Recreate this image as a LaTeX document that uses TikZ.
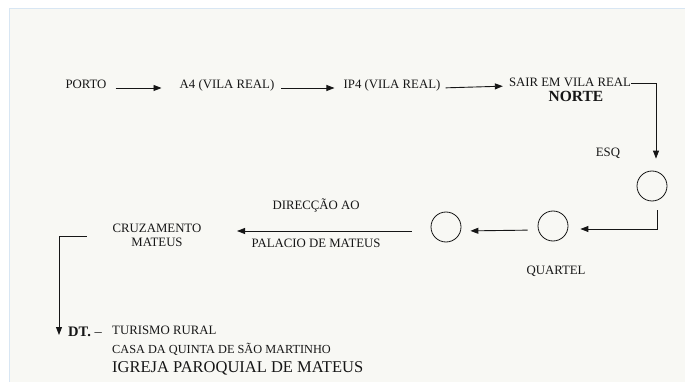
\documentclass[tikz,border=0pt]{standalone}
\usepackage{fontspec}
\setmainfont{Liberation Serif}
\usepackage{xcolor}
\usepackage{tikz}
\usetikzlibrary{arrows.meta}

\definecolor{paper}{RGB}{248,248,244}
\definecolor{edge}{RGB}{216,230,243}
\definecolor{ink}{RGB}{22,22,22}

\tikzset{
  road/.style={draw=ink, line width=0.9pt, -{Triangle[length=8pt,width=6pt]}},
  place/.style={inner sep=0pt, text=ink, font=\fontsize{12.8}{14}\selectfont},
  rot/.style={circle, draw=ink, line width=0.8pt, minimum size=30pt, inner sep=0pt},
}

\begin{document}
\begin{tikzpicture}[x=1pt,y=-1pt]
    \useasboundingbox (0,0) rectangle (685,382);
    \fill[paper] (9,9) rectangle (685,382);
    \draw[edge, line width=1pt] (9,382) -- (9,9) -- (685,9);

    \node[place, anchor=base] (porto) at (86,89) {PORTO};
    \node[place, anchor=base] (a4) at (227,89) {A4 (VILA REAL)};
    \node[place, anchor=base] (ip4) at (392,89) {IP4 (VILA REAL)};
    \node[place, anchor=base] (sair) at (570,87) {SAIR EM VILA REAL};
    \node[place, anchor=base, font=\fontsize{15.5}{17}\selectfont\bfseries] (norte) at (576,102) {NORTE};
    \node[place, anchor=base] (esq) at (608,157) {ESQ};
    \node[rot] (r1) at (652,186) {};
    \node[rot] (r2) at (553,226) {};
    \node[rot] (r3) at (446,227) {};
    \node[place, anchor=base] (quartel) at (556,274) {QUARTEL};
    \node[place, align=center] (cruz) at (157,235) {CRUZAMENTO\\MATEUS};
    \node[place, anchor=base west, font=\fontsize{14.5}{16}\selectfont] (dt) at (68,336) {\textbf{DT.} –};
    \node[place, anchor=base west] (tur) at (112,334) {TURISMO RURAL};
    \node[place, anchor=base west, font=\fontsize{12.3}{14}\selectfont] (casa) at (112,353) {CASA DA QUINTA DE SÃO MARTINHO};
    \node[place, anchor=base west, font=\fontsize{16.5}{18}\selectfont] (igreja) at (112,372) {IGREJA PAROQUIAL DE MATEUS};

    \draw[road, shorten <=9pt, shorten >=18pt] ([yshift=1pt]porto.base east) -- ([yshift=1pt]a4.base west);
    \draw[road, shorten <=7pt, shorten >=9pt] ([yshift=1pt]a4.base east) -- ([yshift=1pt]ip4.base west);
    \draw[road, shorten <=5pt, shorten >=6pt] ([yshift=1pt]ip4.base east) -- ([yshift=1pt]sair.base west);
    \draw[road, shorten >=12pt] ([yshift=4pt]sair.base east) -| ([xshift=4pt]r1.north);
    \draw[road, shorten <=9pt, shorten >=12pt] ([xshift=5pt]r1.south) |- ([yshift=-3pt]r2.east);
    \draw[road, shorten <=10pt, shorten >=9pt] ([yshift=-4pt]r2.west) -- ([yshift=-4pt]r3.east);
    \draw[road, shorten <=19pt, shorten >=35.5pt] ([yshift=-4pt]r3.west) -- node[place, above=18pt]{DIRECÇÃO AO} node[place, below=8pt]{PALACIO DE MATEUS} ([yshift=-4pt]r3.west -| cruz.east);
    \draw[road, shorten <=25.5pt] ([yshift=-1pt]cruz.west) -| ([xshift=-9pt,yshift=1pt]dt.base west);
\end{tikzpicture}
\end{document}
